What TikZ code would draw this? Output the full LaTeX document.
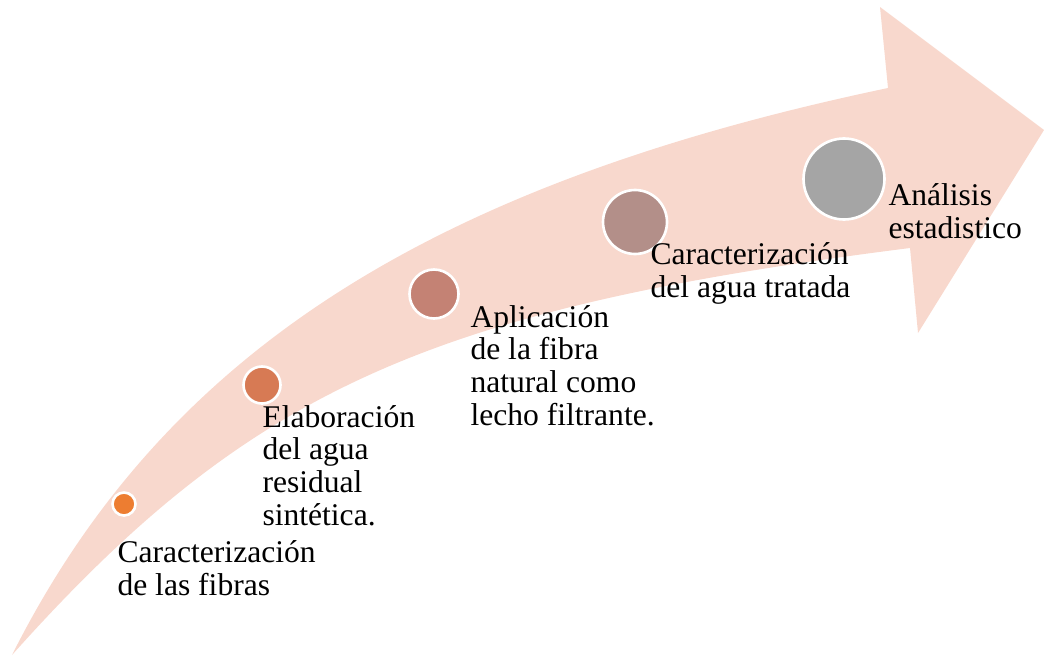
\documentclass[tikz,border=0pt]{standalone}
\usepackage{fontspec}
\setmainfont{Liberation Serif}
\usepackage{tikz}
\usetikzlibrary{calc}
\definecolor{arrowpink}{HTML}{F8D8CD}
\definecolor{dotA}{HTML}{ED7D31}
\definecolor{dotB}{HTML}{D77A54}
\definecolor{dotC}{HTML}{C48274}
\definecolor{dotD}{HTML}{B38F89}
\definecolor{dotE}{HTML}{A5A5A5}
\tikzset{
    stepdot/.style={circle, draw=white, line width=1pt, inner sep=0pt},
    steptext/.style={anchor=base west, align=left, inner sep=0pt, font=\fontsize{12}{12.4}\selectfont}
}

\begin{document}
\begin{tikzpicture}[x=0.38pt, y=-0.38pt]
        \useasboundingbox (0,0) rectangle (1044,657);
        \fill[arrowpink] (12,655) .. controls (163,355) and (426,185) .. (888,88)
            -- (880,7) -- (1044,130) -- (918,333) -- (910,248)
            .. controls (428,309) and (249,390) .. (12,655) -- cycle;
        \foreach \n/\x/\y/\d/\c in {1/124/504/23/dotA, 2/262/385/37/dotB, 3/434/294/49/dotC, 4/635/222/64/dotD, 5/844/179/81/dotE} {
            \node[stepdot, fill=\c, minimum size=\d*0.38pt] (dot\n) at (\x,\y) {};
        }
        \node[steptext] (fibras) at (117,595) {Caracterización\\de las fibras};
        \node[steptext] (residual) at (262,525) {Elaboración\\del agua\\residual\\sintética.};
        \node[steptext] (lecho) at (470,425) {Aplicación\\de la fibra\\natural como\\lecho filtrante.};
        \node[steptext] (tratada) at (650,297) {Caracterización\\del agua tratada};
        \node[steptext] (analisis) at (888,238) {Análisis\\estadistico};
    \end{tikzpicture}
\end{document}
